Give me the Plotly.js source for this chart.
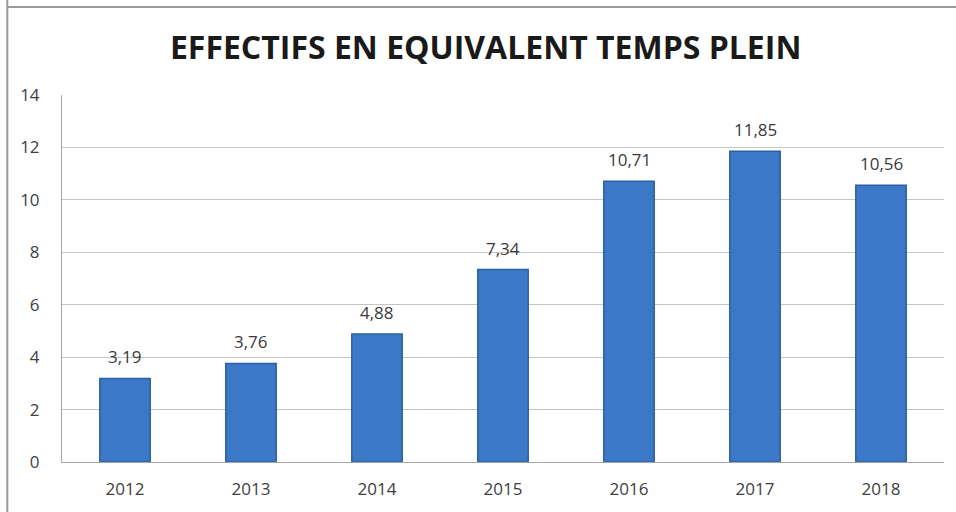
<!DOCTYPE html>
<html><head><meta charset="utf-8">
<script src="https://cdn.plot.ly/plotly-3.0.1.min.js"></script>
<style>html,body{margin:0;padding:0;background:#fff;}#c{width:956px;height:512px;}</style>
</head><body><div id="c"></div>
<script>
const years = ["2012","2013","2014","2015","2016","2017","2018"];
const values = [3.19, 3.76, 4.88, 7.34, 10.71, 11.85, 10.56];
const labels = ["3,19","3,76","4,88","7,34","10,71","11,85","10,56"];
const yTicks = [0,2,4,6,8,10,12,14];

const trace = {
  type: 'bar', x: years, y: values,
  marker: {color: '#3b78c8', line: {color: '#2c5f9f', width: 1.5}},
  hoverinfo: 'skip'
};
const annotations = years.map((yr, i) => ({
  x: i, y: values[i], xref: 'x', yref: 'y', text: labels[i], showarrow: false,
  yanchor: 'bottom', yshift: 8,
  font: {family: 'Open Sans, sans-serif', size: 17, color: '#3a3a3a'}
}));
const layout = {
  width: 956, height: 512,
  margin: {l: 62, r: 12, t: 95, b: 50},
  paper_bgcolor: '#fff', plot_bgcolor: '#fff',
  bargap: 0.6,
  showlegend: false,
  annotations: annotations,
  title: {text: '<b>EFFECTIFS EN EQUIVALENT TEMPS PLEIN</b>', x: 0.508, xanchor: 'center', y: 0.907, yanchor: 'middle',
    font: {family: 'Open Sans, sans-serif', size: 32, color: '#1a1a1a'}},
  xaxis: {type: 'category', range: [-0.5, 6.5], showgrid: false, showline: true, linecolor: '#a6a6a6', linewidth: 1,
    ticks: '', tickfont: {family: 'Open Sans, sans-serif', size: 17, color: '#404040'}, ticklabelstandoff: 12},
  yaxis: {range: [0, 14], tickvals: yTicks, ticktext: yTicks.map(String), showgrid: true, gridcolor: '#c4c4c4', gridwidth: 1,
    showline: true, linecolor: '#a6a6a6', linewidth: 1, ticks: '',
    zeroline: false, tickfont: {family: 'Open Sans, sans-serif', size: 17, color: '#404040'}, ticklabelstandoff: 18},
  shapes: [
    {type: 'line', xref: 'paper', yref: 'paper', x0: -0.062, x1: -0.062, y0: -0.2, y1: 1.3, line: {color: '#9a9a9a', width: 2}},
    {type: 'line', xref: 'paper', yref: 'paper', x0: -0.062, x1: 1.1, y0: 1.24, y1: 1.24, line: {color: '#9a9a9a', width: 2}}
  ]
};
Plotly.newPlot('c', [trace], layout, {displayModeBar: false, staticPlot: true});
</script></body></html>
